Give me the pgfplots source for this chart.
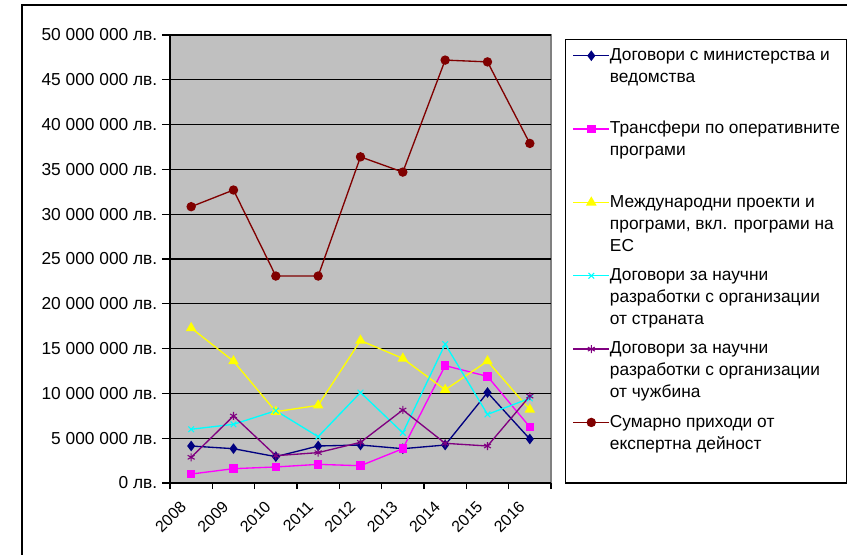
\documentclass[border=0pt]{standalone}
\usepackage{pgfplots}
\pgfplotsset{compat=1.18}
\usepackage{pgfplotstable}
\usepackage{fontspec}
\setmainfont{Liberation Sans}
\definecolor{xnavy}{RGB}{0,0,128}
\definecolor{xmag}{RGB}{255,0,255}
\definecolor{xyel}{RGB}{255,255,0}
\definecolor{xcyan}{RGB}{0,255,255}
\definecolor{xpurp}{RGB}{128,0,128}
\definecolor{xred}{RGB}{128,0,0}
\definecolor{xsilver}{RGB}{192,192,192}
\definecolor{xgray}{RGB}{128,128,128}

\pgfplotstableread{
x   a        b        c        d        e        f
0.5 4130000  1000000  17300000 6000000  2870000  30840000
1.5 3830000  1600000  13600000 6550000  7480000  32700000
2.5 2940000  1790000  7960000  8070000  3050000  23100000
3.5 4130000  2080000  8670000  5170000  3390000  23100000
4.5 4240000  1930000  15900000 10100000 4540000  36400000
5.5 3830000  3830000  13900000 5600000  8150000  34700000
6.5 4240000  13100000 10400000 15500000 4430000  47200000
7.5 10100000 11900000 13600000 7660000  4130000  47000000
8.5 4910000  6250000  8200000  9450000  9700000  37900000
}\data

\begin{document}
\begin{tikzpicture}
\path[use as bounding box] (0,0) rectangle (635.25pt,-415.5pt);
\draw[line width=1pt] (16.5pt,-3.75pt) rectangle (700pt,-500pt);
\begin{axis}[
  at={(127.5pt,-362.25pt)}, anchor=south west,
  scale only axis, width=285.75pt, height=336pt,
  xmin=0, xmax=9, ymin=0, ymax=5e7,
  axis x line*=bottom, axis y line*=left,
  axis line style={black, line width=0.9pt, -},
  axis background/.style={fill=xsilver, draw=xgray, line width=1pt},
  scaled y ticks=false,
  ytick={0,5e6,1e7,1.5e7,2e7,2.5e7,3e7,3.5e7,4e7,4.5e7,5e7},
  yticklabels={0 лв.,5 000 000 лв.,10 000 000 лв.,15 000 000 лв.,20 000 000 лв.,25 000 000 лв.,30 000 000 лв.,35 000 000 лв.,40 000 000 лв.,45 000 000 лв.,50 000 000 лв.},
  xtick={0.5,1.5,2.5,3.5,4.5,5.5,6.5,7.5,8.5},
  xticklabels={2008,2009,2010,2011,2012,2013,2014,2015,2016},
  minor xtick={0,1,2,3,4,5,6,7,8,9},
  major x tick style={draw=none},
  minor x tick style={black, line width=0.8pt},
  y tick style={black, line width=0.8pt},
  tick align=outside,
  major tick length=6pt, minor tick length=4.5pt,
  ymajorgrids, grid style={black, line width=1pt},
  yticklabel style={font=\fontsize{13}{16}\selectfont},
  xticklabel style={xshift=-9pt, yshift=-2pt, rotate=45, anchor=north east, font=\fontsize{12}{14}\selectfont},
  legend style={at={(1.0367,0.991)}, anchor=north west, draw=black, line width=1pt, fill=white,
    inner xsep=5.25pt, inner ysep=4pt, row sep=5.5pt,
    cells={anchor=base west},
    nodes={inner sep=0pt, text depth=, font=\fontsize{13}{16.5}\selectfont},
    /tikz/every even column/.append style={column sep=3.75pt}},
  legend image code/.code={\draw[mark repeat=2,mark phase=2,#1] plot coordinates {(0pt,3.5pt) (13.5pt,3.5pt) (27pt,3.5pt)};},
]
\addplot[color=xnavy, line width=1pt, mark=diamond*, mark size=3.2pt] table[x=x,y=a]{\data};
\addlegendentry{\begin{tabular}[t]{@{}l@{}}Договори с министерства и\\ ведомства\\ \mbox{}\end{tabular}}
\addplot[color=xmag, line width=1pt, mark=square*, mark size=2.7pt] table[x=x,y=b]{\data};
\addlegendentry{\begin{tabular}[t]{@{}l@{}}Трансфери по оперативните\\ програми\\ \mbox{}\end{tabular}}
\addplot[color=xyel, line width=1pt, mark=triangle*, mark size=3.6pt] table[x=x,y=c]{\data};
\addlegendentry{\begin{tabular}[t]{@{}l@{}}Международни проекти и\\ програми, вкл. програми на\\ ЕС\end{tabular}}
\addplot[color=xcyan, line width=1pt, mark=x, mark size=3pt, mark options={line width=0.8pt}] table[x=x,y=d]{\data};
\addlegendentry{\begin{tabular}[t]{@{}l@{}}Договори за научни\\ разработки с организации\\ от страната\end{tabular}}
\addplot[color=xpurp, line width=1pt, mark=asterisk, mark size=3pt, mark options={line width=0.8pt}] table[x=x,y=e]{\data};
\addlegendentry{\begin{tabular}[t]{@{}l@{}}Договори за научни\\ разработки с организации\\ от чужбина\end{tabular}}
\addplot[color=xred, line width=1pt, mark=*, mark size=3pt] table[x=x,y=f]{\data};
\addlegendentry{\begin{tabular}[t]{@{}l@{}}Сумарно приходи от\\ експертна дейност\\ \mbox{}\end{tabular}}
\end{axis}
\end{tikzpicture}
\end{document}
